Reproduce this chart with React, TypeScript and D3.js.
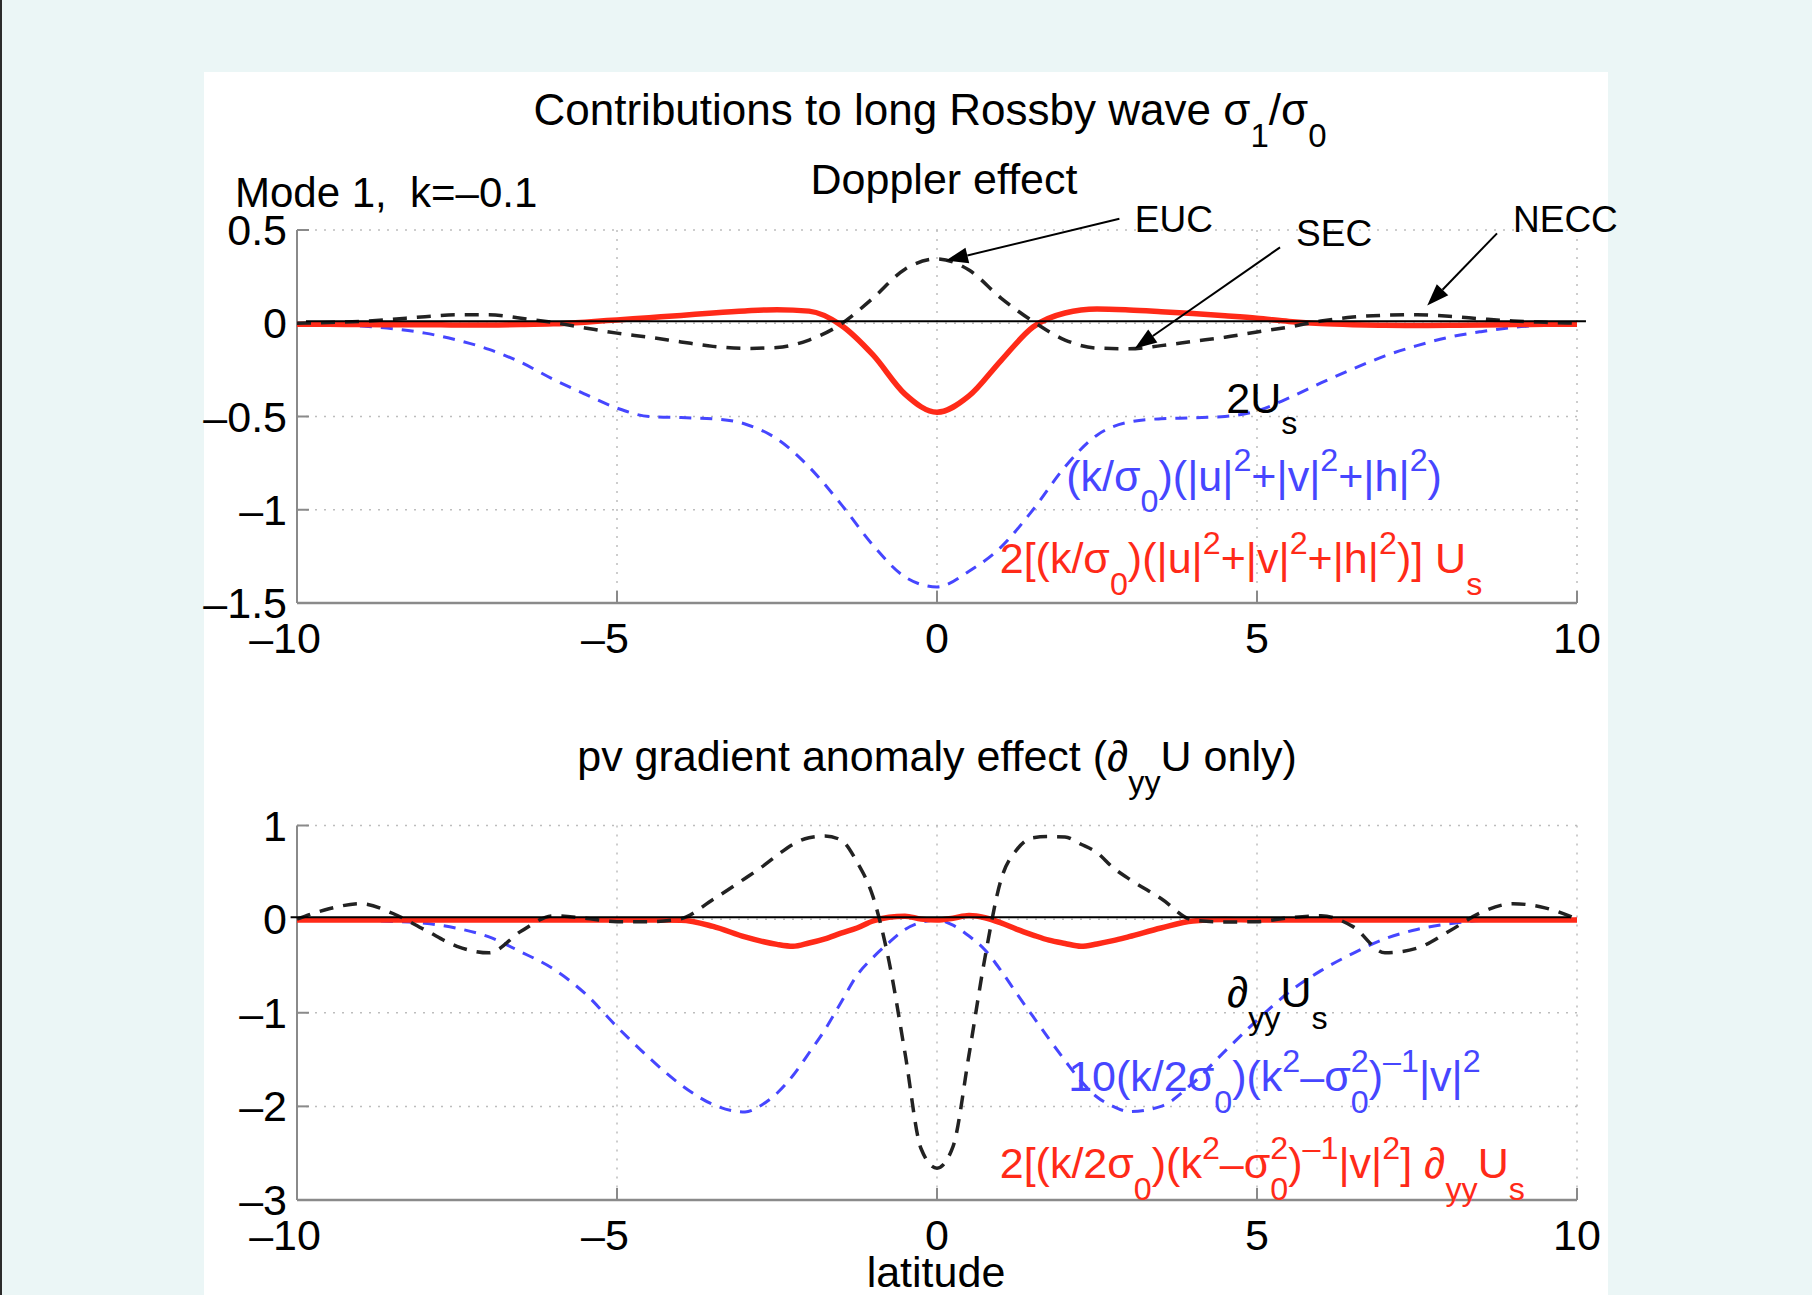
import * as d3 from "d3";
import React, {useRef, useEffect} from "react";

// latitude grids
const latTop = [-10,-9.5,-9,-8.5,-8,-7.5,-7,-6.5,-6,-5.5,-5,-4.5,-4,-3.5,-3,-2.5,-2,-1.5,-1,-0.5,
    0,0.5,1,1.5,2,2.5,3,3.5,4,4.5,5,5.5,6,6.5,7,7.5,8,8.5,9,9.5,10];
const latBottom = [-10,-9.5,-9,-8.5,-8,-7.5,-7,-6.5,-6,-5.5,-5,-4.5,-4,-3.5,-3,
    -2.75,-2.5,-2.25,-2,-1.75,-1.5,-1.25,-1,-0.75,-0.5,-0.25,0,0.25,0.5,0.75,1,1.25,1.5,1.75,2,2.25,2.5,2.75,
    3,3.5,4,4.5,5,5.5,6,6.5,7,7.5,8,8.5,9,9.5,10];

// Doppler effect panel
const twoUs = [0,0.004,0.01,0.022,0.035,0.045,0.045,0.027,0.004,-0.025,-0.053,-0.075,-0.1,-0.124,-0.135,-0.13,-0.09,-0.005,0.135,0.29,
    0.345,0.285,0.135,0.01,-0.09,-0.133,-0.137,-0.12,-0.097,-0.075,-0.047,-0.02,0.012,0.033,0.043,0.046,0.037,0.024,0.012,0.005,0];
const energyWeight = [0,-0.006,-0.015,-0.03,-0.053,-0.09,-0.14,-0.21,-0.3,-0.38,-0.455,-0.5,-0.506,-0.512,-0.54,-0.62,-0.77,-0.97,-1.19,-1.36,
    -1.414,-1.33,-1.2,-1.0,-0.77,-0.6,-0.53,-0.512,-0.507,-0.5,-0.47,-0.4,-0.32,-0.245,-0.175,-0.12,-0.075,-0.045,-0.022,-0.01,-0.004];
const dopplerTerm = [-0.005,-0.006,-0.007,-0.008,-0.008,-0.009,-0.009,-0.007,-0.003,0.006,0.018,0.03,0.042,0.055,0.066,0.073,0.065,-0.01,-0.17,-0.38,
    -0.477,-0.39,-0.2,-0.02,0.055,0.076,0.071,0.062,0.052,0.04,0.027,0.01,-0.002,-0.008,-0.011,-0.012,-0.011,-0.009,-0.007,-0.006,-0.005];

// pv gradient anomaly panel
const dyyUs = [0,0.11,0.165,0.06,-0.115,-0.29,-0.36,-0.13,0.035,0.01,-0.028,-0.028,0.005,0.21,0.434,
    0.55,0.68,0.8,0.87,0.888,0.845,0.61,0.24,-0.45,-1.43,-2.45,-2.66,-2.43,-1.45,-0.41,0.42,0.745,0.87,0.882,0.878,0.8,0.71,0.55,
    0.43,0.22,-0.01,-0.03,-0.028,0.015,0.035,-0.08,-0.36,-0.31,-0.13,0.07,0.165,0.12,0];
const vWeight = [0,-0.005,-0.012,-0.025,-0.045,-0.098,-0.19,-0.35,-0.53,-0.794,-1.15,-1.48,-1.77,-1.98,-2.06,
    -1.99,-1.86,-1.67,-1.43,-1.18,-0.89,-0.6,-0.41,-0.25,-0.11,-0.035,-0.01,-0.065,-0.18,-0.33,-0.55,-0.8,-1.04,-1.28,-1.51,-1.73,-1.9,-2.0,
    -2.055,-2.0,-1.75,-1.41,-1.08,-0.78,-0.55,-0.365,-0.21,-0.11,-0.05,-0.015,-0.005,-0.002,0];
const pvTerm = [-0.01,-0.01,-0.01,-0.01,-0.01,-0.01,-0.01,-0.01,-0.01,-0.01,-0.01,-0.01,-0.012,-0.078,-0.19,
    -0.235,-0.27,-0.29,-0.255,-0.21,-0.15,-0.095,-0.02,0.02,0.032,0.0,-0.01,0.01,0.038,0.015,-0.04,-0.11,-0.17,-0.225,-0.26,-0.29,-0.265,-0.23,
    -0.187,-0.095,-0.02,-0.005,-0.01,-0.01,-0.01,-0.01,-0.01,-0.01,-0.01,-0.01,-0.01,-0.01,-0.01];

const xTicks = [-10, -5, 0, 5, 10];
const xTickLabels = ["–10", "–5", "0", "5", "10"];
const yTicksTop = [0.5, 0, -0.5, -1, -1.5];
const yLabelsTop = ["0.5", "0", "–0.5", "–1", "–1.5"];
const yTicksBottom = [1, 0, -1, -2, -3];
const yLabelsBottom = ["1", "0", "–1", "–2", "–3"];
const zeroTop = [-9.86, 10.14];
const zeroBottom = [-10.1, 9.9];

// annotations: [label, text x, text y, tail x, tail y, tip x, tip y] in data units
const currents = [
    ["EUC", 3.09, 0.49, 2.85, 0.56, 0.14, 0.336],
    ["SEC", 5.61, 0.416, 5.36, 0.407, 3.09, -0.136],
    ["NECC", 9.0, 0.49, 8.75, 0.482, 7.66, 0.095],
];

const BLACK = "#222";
const BLUE = "#4646ff";
const RED = "#ff2a18";
const FONT = "'Liberation Sans', Arial, Helvetica, sans-serif";

function richText(g, x, y, segs, fs, fill, anchor = "start") {
    const t = g.append("text")
        .attr("x", x).attr("y", y)
        .attr("font-size", fs)
        .attr("fill", fill)
        .attr("text-anchor", anchor)
        .style("white-space", "pre");
    let cur = 0;
    segs.forEach(([s, k]) => {
        const off = k === "b" ? fs * 0.5 : (k === "p" || k === "q") ? -fs * 0.46 : 0;
        const sp = t.append("tspan")
            .attr("dy", off - cur)
            .attr("font-size", k === "n" ? fs : fs * 0.75)
            .text(s);
        if (k === "q") sp.attr("dx", -fs * 0.75 * 0.556);
        cur = off;
    });
    return t;
}

function drawPanel(svg, x, p) {
    const y = d3.scaleLinear().domain(p.domain).range([p.bottom, p.top]);
    const g = svg.append("g");
    const fs = 43;

    // dotted grid
    g.selectAll(".vgrid").data(xTicks.slice(1)).enter().append("line")
        .attr("x1", d => x(d)).attr("x2", d => x(d))
        .attr("y1", p.top).attr("y2", p.bottom)
        .attr("stroke", "#bdbdbd").attr("stroke-width", 1.5).attr("stroke-dasharray", "2 7");
    g.selectAll(".hgrid").data(p.yTicks).enter().append("line")
        .attr("x1", x(-10)).attr("x2", x(10))
        .attr("y1", d => y(d)).attr("y2", d => y(d))
        .attr("stroke", "#bdbdbd").attr("stroke-width", 1.5).attr("stroke-dasharray", "2 7");

    // axes (left and bottom only)
    g.append("line").attr("x1", x(-10)).attr("x2", x(-10)).attr("y1", p.top).attr("y2", p.bottom)
        .attr("stroke", "#8a8a8a").attr("stroke-width", 2);
    g.append("line").attr("x1", x(-10)).attr("x2", x(10)).attr("y1", p.bottom).attr("y2", p.bottom)
        .attr("stroke", "#8a8a8a").attr("stroke-width", 2.5);
    g.selectAll(".xt").data(xTicks).enter().append("line")
        .attr("x1", d => x(d)).attr("x2", d => x(d))
        .attr("y1", p.bottom).attr("y2", p.bottom - 12)
        .attr("stroke", "#8a8a8a").attr("stroke-width", 2);
    g.selectAll(".yt").data(p.yTicks).enter().append("line")
        .attr("x1", x(-10)).attr("x2", x(-10) + 12)
        .attr("y1", d => y(d)).attr("y2", d => y(d))
        .attr("stroke", "#8a8a8a").attr("stroke-width", 2);

    // tick labels
    p.yLabels.forEach((s, i) => {
        g.append("text").attr("x", x(-10) - 10).attr("y", y(p.yTicks[i]) + 15)
            .attr("text-anchor", "end").attr("font-size", fs).attr("fill", "#000").text(s);
    });
    xTickLabels.forEach((s, i) => {
        const neg = s.startsWith("–");
        const digits = neg ? s.slice(1) : s;
        const cx = x(xTicks[i]);
        const ly = p.bottom + 50;
        g.append("text").attr("x", cx).attr("y", ly).attr("text-anchor", "middle")
            .attr("font-size", fs).attr("fill", "#000").text(digits);
        if (neg) {
            g.append("text").attr("x", cx - digits.length * 0.556 * fs / 2).attr("y", ly)
                .attr("text-anchor", "end").attr("font-size", fs).attr("fill", "#000").text("–");
        }
    });

    // curves
    const line = d3.line()
        .x((d, i) => x(p.lat[i]))
        .y(d => y(d))
        .curve(d3.curveMonotoneX);

    p.series.forEach(s => {
        g.append("path")
            .attr("d", line(s.values))
            .attr("fill", "none")
            .attr("stroke", s.color)
            .attr("stroke-width", s.width)
            .attr("stroke-dasharray", s.dash)
            .attr("stroke-linejoin", "round");
    });

    g.append("line")
        .attr("x1", x(p.zero[0])).attr("x2", x(p.zero[1]))
        .attr("y1", y(0) - 2).attr("y2", y(0) - 2)
        .attr("stroke", "#000").attr("stroke-width", 2);

    // curve labels
    p.labels.forEach(l => {
        richText(g, x(l.at[0]), y(l.at[1]), l.segs, fs, l.color);
    });

    return y;
}

function App() {

    const ref = useRef();

    useEffect(() => {
        document.body.style.margin = "0";
        const svg = d3.select(ref.current);
        svg.selectAll("*").remove();

        svg.append("rect").attr("width", 1812).attr("height", 1295).attr("fill", "#ebf6f6");
        svg.append("rect").attr("x", 0).attr("width", 2).attr("height", 1295).attr("fill", "#2b2b2b");
        svg.append("rect").attr("x", 204).attr("y", 72).attr("width", 1404).attr("height", 1230).attr("fill", "#fff");

        const x = d3.scaleLinear().domain([-10, 10]).range([297, 1577]);

        const yTop = drawPanel(svg, x, {
            top: 230, bottom: 603, domain: [-1.5, 0.5],
            yTicks: yTicksTop, yLabels: yLabelsTop, lat: latTop, zero: zeroTop,
            series: [
                {values: energyWeight, color: BLUE, width: 3, dash: "12 9"},
                {values: dopplerTerm, color: RED, width: 5.5, dash: null},
                {values: twoUs, color: BLACK, width: 3.5, dash: "14 10"},
            ],
            labels: [
                {at: [4.52, -0.479], color: "#000", segs: [["2U", "n"], ["s", "b"]]},
                {at: [2.02, -0.897], color: BLUE, segs: [["(k/σ", "n"], ["0", "b"], [")(|u|", "n"], ["2", "p"],
                    ["+|v|", "n"], ["2", "p"], ["+|h|", "n"], ["2", "p"], [")", "n"]]},
                {at: [0.98, -1.341], color: RED, segs: [["2[(k/σ", "n"], ["0", "b"], [")(|u|", "n"], ["2", "p"],
                    ["+|v|", "n"], ["2", "p"], ["+|h|", "n"], ["2", "p"], [")] U", "n"], ["s", "b"]]},
            ],
        });

        drawPanel(svg, x, {
            top: 825.5, bottom: 1200, domain: [-3, 1],
            yTicks: yTicksBottom, yLabels: yLabelsBottom, lat: latBottom, zero: zeroBottom,
            series: [
                {values: vWeight, color: BLUE, width: 3, dash: "12 9"},
                {values: pvTerm, color: RED, width: 5.5, dash: null},
                {values: dyyUs, color: BLACK, width: 3.5, dash: "14 10"},
            ],
            labels: [
                {at: [4.53, -0.94], color: "#000", segs: [["∂", "n"], ["yy", "b"], ["U", "n"], ["s", "b"]]},
                {at: [2.05, -1.84], color: BLUE, segs: [["10(k/2σ", "n"], ["0", "b"], [")(k", "n"], ["2", "p"],
                    ["–σ", "n"], ["0", "b"], ["2", "q"], [")", "n"], ["–1", "p"], ["|v|", "n"], ["2", "p"]]},
                {at: [0.98, -2.77], color: RED, segs: [["2[(k/2σ", "n"], ["0", "b"], [")(k", "n"], ["2", "p"],
                    ["–σ", "n"], ["0", "b"], ["2", "q"], [")", "n"], ["–1", "p"], ["|v|", "n"], ["2", "p"],
                    ["] ∂", "n"], ["yy", "b"], ["U", "n"], ["s", "b"]]},
            ],
        });

        // titles
        richText(svg, 930, 125, [["Contributions to long Rossby wave σ", "n"], ["1", "b"], ["/σ", "n"], ["0", "b"]], 44, "#000", "middle");
        svg.append("text").attr("x", 944).attr("y", 194).attr("text-anchor", "middle")
            .attr("font-size", 43).text("Doppler effect");
        svg.append("text").attr("x", 235).attr("y", 207).attr("font-size", 42)
            .style("white-space", "pre").text("Mode 1,  k=–0.1");
        richText(svg, 937, 771, [["pv gradient anomaly effect (∂", "n"], ["yy", "b"], ["U only)", "n"]], 43, "#000", "middle");
        svg.append("text").attr("x", 936).attr("y", 1287).attr("text-anchor", "middle")
            .attr("font-size", 43).text("latitude");

        // current annotations with arrows
        currents.forEach(([label, tx, ty, ax, ay, bx, by]) => {
            const x1 = x(ax), y1 = yTop(ay), x2 = x(bx), y2 = yTop(by);
            const ang = Math.atan2(y2 - y1, x2 - x1);
            const len = 22, hw = 8;
            const bxp = x2 - len * Math.cos(ang), byp = y2 - len * Math.sin(ang);
            svg.append("line").attr("x1", x1).attr("y1", y1).attr("x2", bxp).attr("y2", byp)
                .attr("stroke", "#000").attr("stroke-width", 2);
            svg.append("polygon")
                .attr("points", [
                    [x2, y2],
                    [bxp + hw * Math.sin(ang), byp - hw * Math.cos(ang)],
                    [bxp - hw * Math.sin(ang), byp + hw * Math.cos(ang)],
                ].map(q => q.join(",")).join(" "))
                .attr("fill", "#000");
            svg.append("text").attr("x", x(tx)).attr("y", yTop(ty)).attr("font-size", 37)
                .attr("fill", "#000").text(label);
        });

        svg.selectAll("text").attr("font-family", FONT);

    }, []);

    return (
        <svg ref={ref} width={1812} height={1295}
             style={{position: "absolute", left: 0, top: 0, display: "block"}} />
    );
}

export default App;
